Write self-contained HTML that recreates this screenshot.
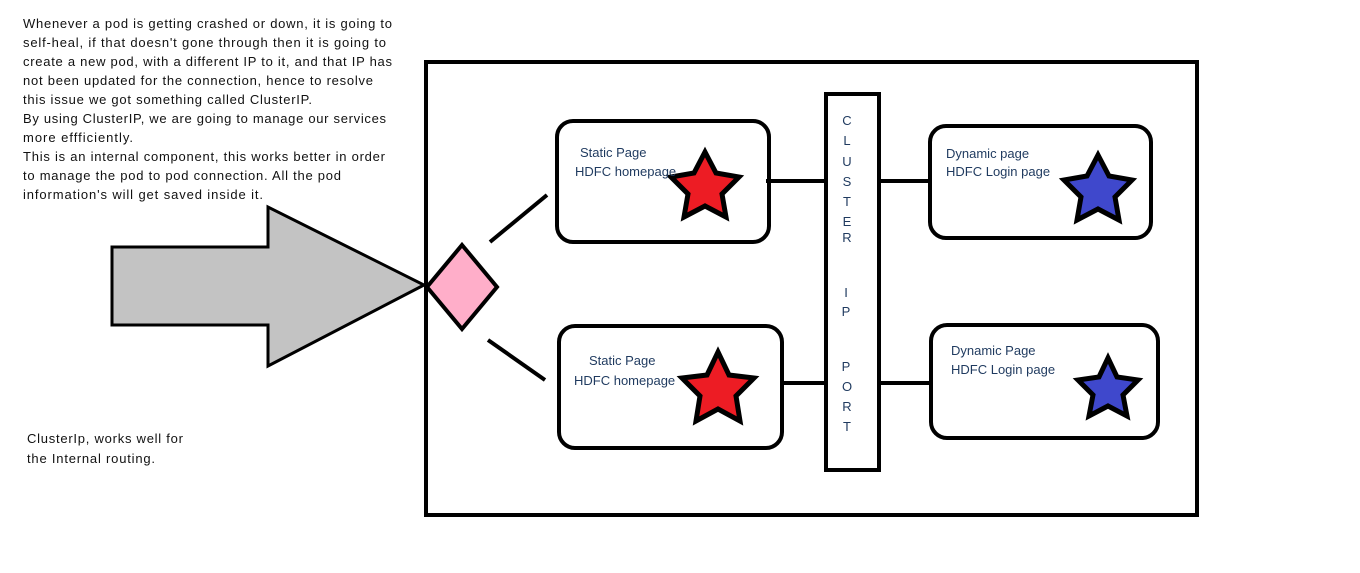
<!DOCTYPE html>
<html><head><meta charset="utf-8"><style>
body{margin:0;background:#fff}
svg{display:block}
text{font-family:"Liberation Sans",sans-serif;font-size:13px}
.t{fill:#111}
.b{fill:#1f3a5f;font-size:13.5px}
</style></head><body>
<svg width="1360" height="573" viewBox="0 0 1360 573" xmlns="http://www.w3.org/2000/svg">
<g class="t">
<text x="23" y="28" textLength="369">Whenever a pod is getting crashed or down, it is going to</text>
<text x="23" y="47" textLength="363">self-heal, if that doesn't gone through then it is going to</text>
<text x="23" y="66" textLength="369">create a new pod, with a different IP to it, and that IP has</text>
<text x="23" y="85" textLength="350">not been updated for the connection, hence to resolve</text>
<text x="23" y="104" textLength="289">this issue we got something called ClusterIP.</text>
<text x="23" y="123" textLength="363">By using ClusterIP, we are going to manage our services</text>
<text x="23" y="142" textLength="110">more effficiently.</text>
<text x="23" y="161" textLength="362">This is an internal component, this works better in order</text>
<text x="23" y="180" textLength="318">to manage the pod to pod connection. All the pod</text>
<text x="23" y="199" textLength="240">information's will get saved inside it.</text>
<text x="27" y="443" textLength="156">ClusterIp, works well for</text>
<text x="27" y="463" textLength="128">the Internal routing.</text>
</g>
<rect x="426" y="62" width="771" height="453" fill="none" stroke="#000" stroke-width="4"/>
<polygon points="112,247 268,247 268,207 424,285 268,366 268,325 112,325" fill="#c3c3c3" stroke="#000" stroke-width="3"/>
<polygon points="462,245 497,287 462,329 427,287" fill="#ffaec9" stroke="#000" stroke-width="4"/>
<g stroke="#000" stroke-width="4" fill="none">
<line x1="490" y1="242" x2="547" y2="195"/>
<line x1="488" y1="340" x2="545" y2="380"/>
<rect x="557" y="121" width="212" height="121" rx="16"/>
<rect x="559" y="326" width="223" height="122" rx="16"/>
<rect x="930" y="126" width="221" height="112" rx="16"/>
<rect x="931" y="325" width="227" height="113" rx="16"/>
<rect x="826" y="94" width="53" height="376"/>
<line x1="766" y1="181" x2="826" y2="181"/>
<line x1="879" y1="181" x2="930" y2="181"/>
<line x1="782" y1="383" x2="826" y2="383"/>
<line x1="879" y1="383" x2="931" y2="383"/>
</g>
<g stroke="#000" stroke-width="5">
<polygon fill="#ed1c24" points="705,152 716,173 739,177 722,194 726,217 705,206 684,217 688,194 671,177 694,173"/>
<polygon fill="#ed1c24" points="718,352 729,375 754,378 736,396 740,421 718,409 696,421 700,396 682,378 707,375"/>
<polygon fill="#3f48cc" points="1098,155 1109,176 1132,180 1115,197 1119,220 1098,209 1077,220 1081,197 1064,180 1087,176"/>
<polygon fill="#3f48cc" points="1108,358 1117,377 1138,380 1123,395 1127,416 1108,406 1089,416 1093,395 1078,380 1099,377"/>
</g>
<g class="b">
<text x="580" y="157">Static Page</text>
<text x="575" y="176">HDFC homepage</text>
<text x="589" y="365">Static Page</text>
<text x="574" y="385">HDFC homepage</text>
<text x="946" y="158">Dynamic page</text>
<text x="946" y="176">HDFC Login page</text>
<text x="951" y="355">Dynamic Page</text>
<text x="951" y="374">HDFC Login page</text>
</g>
<g class="b" text-anchor="middle">
<text x="847" y="125">C</text><text x="847" y="145">L</text><text x="847" y="166">U</text>
<text x="847" y="186">S</text><text x="847" y="206">T</text><text x="847" y="226">E</text>
<text x="847" y="242">R</text><text x="846" y="297">I</text><text x="846" y="316">P</text>
<text x="846" y="371">P</text><text x="847" y="391">O</text><text x="847" y="411">R</text>
<text x="847" y="431">T</text>
</g>
</svg>
</body></html>
